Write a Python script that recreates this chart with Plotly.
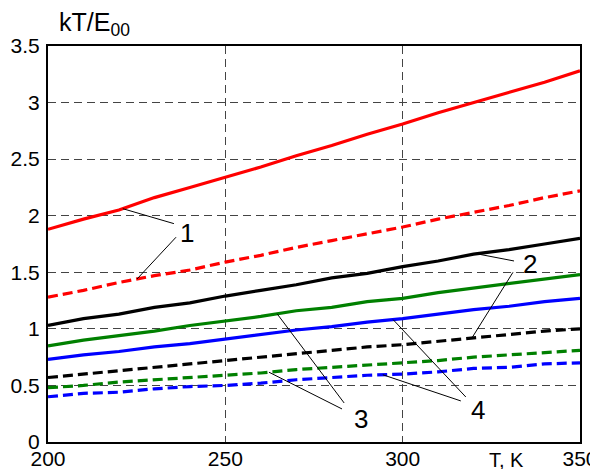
import numpy as np
import plotly.graph_objects as go

T = [200, 210, 220, 230, 240, 250, 260, 270, 280, 290, 300, 310, 320, 330, 340, 350]
red_solid = [1.88, 1.97, 2.05, 2.16, 2.25, 2.34, 2.43, 2.53, 2.62, 2.72, 2.81, 2.91, 3.00, 3.09, 3.18, 3.28]
red_dashed = [1.28, 1.34, 1.41, 1.47, 1.52, 1.59, 1.65, 1.72, 1.78, 1.84, 1.90, 1.97, 2.03, 2.09, 2.16, 2.22]
black_solid = [1.03, 1.09, 1.13, 1.19, 1.23, 1.29, 1.34, 1.39, 1.45, 1.49, 1.55, 1.60, 1.66, 1.70, 1.75, 1.80]
green_solid = [0.85, 0.90, 0.94, 0.98, 1.03, 1.07, 1.11, 1.16, 1.19, 1.24, 1.27, 1.32, 1.36, 1.40, 1.44, 1.48]
blue_solid = [0.73, 0.77, 0.80, 0.84, 0.87, 0.91, 0.95, 0.99, 1.02, 1.06, 1.09, 1.13, 1.17, 1.20, 1.24, 1.27]
black_dashed = [0.57, 0.60, 0.63, 0.66, 0.69, 0.72, 0.75, 0.78, 0.81, 0.84, 0.86, 0.89, 0.92, 0.95, 0.98, 1.00]
green_dashed = [0.48, 0.50, 0.53, 0.55, 0.57, 0.59, 0.61, 0.64, 0.66, 0.68, 0.70, 0.72, 0.75, 0.77, 0.79, 0.81]
blue_dashed = [0.40, 0.43, 0.44, 0.47, 0.49, 0.50, 0.52, 0.55, 0.57, 0.59, 0.60, 0.62, 0.65, 0.66, 0.69, 0.70]

x_ticks = [200, 250, 300, 350]
y_ticks = [0, 0.5, 1, 1.5, 2, 2.5, 3, 3.5]
y_tick_text = ["0", "0.5", "1", "1.5", "2", "2.5", "3", "3.5"]

FONT = "Liberation Sans, Arial, sans-serif"

series = [
    (red_solid, "red", "solid"),
    (red_dashed, "red", "10px,5px"),
    (black_solid, "black", "solid"),
    (black_dashed, "black", "10px,5px"),
    (green_solid, "green", "solid"),
    (green_dashed, "green", "10px,5px"),
    (blue_solid, "blue", "solid"),
    (blue_dashed, "blue", "10px,5px"),
]

fig = go.Figure()
for vals, col, dash in series:
    fig.add_trace(go.Scatter(x=T, y=vals, mode="lines",
                             line=dict(color=col, width=3.2, dash=dash),
                             showlegend=False, hoverinfo="skip"))

# labels: (text, text position, [(curve, T on curve, label-end T, label-end y), ...])
labels = [
    ("1", (239.2, 1.85), [(red_solid, 221.1, 235.5, 1.93), (red_dashed, 225.1, 236.1, 1.81)]),
    ("2", (335.9, 1.575), [(black_solid, 320.9, 331.4, 1.60), (black_dashed, 319.5, 331.1, 1.50)]),
    ("3", (288.2, 0.20), [(green_solid, 264.6, 283.5, 0.345), (green_dashed, 262.3, 282.9, 0.292)]),
    ("4", (321.2, 0.28), [(blue_solid, 297.3, 317.8, 0.398), (blue_dashed, 294.4, 316.4, 0.363)]),
]

for txt, (tx, ty), leaders in labels:
    fig.add_annotation(x=tx, y=ty, text=txt, showarrow=False, xanchor="center", yanchor="middle",
                       font=dict(size=26, color="black", family=FONT))
    for curve, tc, lx, ly in leaders:
        yc = float(np.interp(tc, T, curve))
        fig.add_shape(type="line", x0=tc, y0=yc, x1=lx, y1=ly,
                      line=dict(color="black", width=1), layer="above")

# the page body adds an 8px offset; margins are set so the plot box lands where the reference has it
OFF = 8
W, H = 598, 469
ML, MR, MT, MB = 48 - OFF, 26, 46 - OFF, 35
pw, ph = W - ML - MR, H - MT - MB


def px2paper(px, py):
    return (px - OFF - ML) / pw, (H - MB - (py - OFF)) / ph


tx0, ty0 = px2paper(57, 24)
fig.add_annotation(x=tx0, y=ty0, xref="paper", yref="paper", xanchor="left", yanchor="middle",
                   text="kT/E<sub>00</sub>", showarrow=False,
                   font=dict(size=25, color="black", family=FONT))
tx1, ty1 = px2paper(506, 460)
fig.add_annotation(x=tx1, y=ty1, xref="paper", yref="paper", xanchor="center", yanchor="middle",
                   text="T, K", showarrow=False,
                   font=dict(size=20, color="black", family=FONT))

axis_common = dict(showline=True, linecolor="black", linewidth=2, mirror=True,
                   showgrid=True, gridcolor="#444", gridwidth=1, griddash="8px,5px",
                   zeroline=False, ticks="", automargin=False,
                   tickfont=dict(size=21, color="black", family=FONT))

fig.update_xaxes(range=[200, 350], tickvals=x_ticks, ticktext=[str(v) for v in x_ticks],
                 ticklabelstandoff=-3, **axis_common)
fig.update_yaxes(range=[0, 3.5], tickvals=y_ticks, ticktext=y_tick_text,
                 ticklabelstandoff=2, **axis_common)

fig.update_layout(width=W, height=H, margin=dict(l=ML, r=MR, t=MT, b=MB, autoexpand=False),
                  paper_bgcolor="white", plot_bgcolor="white")

fig.write_html("out.html")
